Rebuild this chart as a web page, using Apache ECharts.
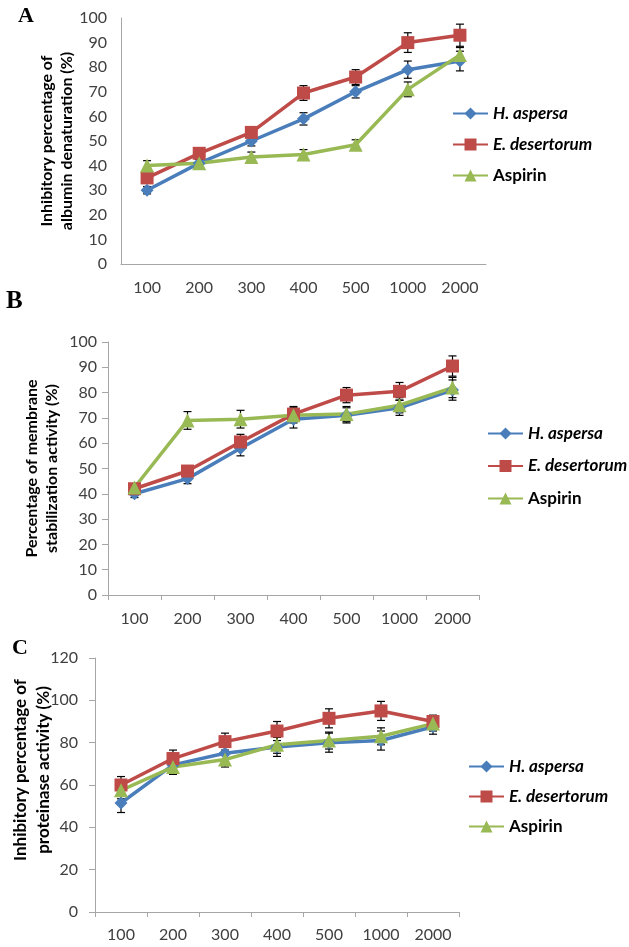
<!DOCTYPE html>
<html>
<head>
<meta charset="utf-8">
<script src="https://cdn.jsdelivr.net/npm/echarts@6/dist/echarts.min.js"></script>
<style>html,body{margin:0;padding:0;background:#fff}#c{width:629px;height:947px}</style>
</head>
<body>
<div id="c"></div>
<script>
const categories = ['100','200','300','400','500','1000','2000'];
const seriesNames = ['H. aspersa','E. desertorum','Aspirin'];

// Panel A: albumin denaturation
const aHasp = [30, 41, 50, 59, 70, 79, 82.5];
const aEdes = [35, 45, 53.5, 69.5, 76, 90, 93];
const aAsp  = [40, 41, 43.5, 44.5, 48.5, 71, 85];
const aHaspErr = [1.5, 1.5, 2, 2.5, 2.5, 3.5, 4];
const aEdesErr = [2, 1.5, 2, 3, 3, 4, 4.5];
const aAspErr  = [2, 1.5, 2, 2, 2, 3, 3];

// Panel B: membrane stabilization
const bHasp = [40, 46, 58, 69.5, 71, 74, 81];
const bEdes = [42, 49, 60.5, 71.5, 79, 80.5, 90.5];
const bAsp  = [42.5, 69, 69.5, 71, 71.5, 75, 82];
const bHaspErr = [1.5, 2, 3, 3.5, 3, 3, 4];
const bEdesErr = [1.5, 2, 3, 3, 3, 3.5, 4];
const bAspErr  = [1.5, 3.5, 3.5, 3, 3, 3, 4];

// Panel C: proteinase activity
const cHasp = [51.5, 69.5, 75, 78, 80, 81, 87.5];
const cEdes = [60, 72.5, 80.5, 85.5, 91.5, 95, 90];
const cAsp  = [57.5, 68.5, 72, 79, 81, 83, 89];
const cHaspErr = [4.5, 3.5, 4, 4.5, 4.5, 4.5, 3.5];
const cEdesErr = [4, 4, 4, 4.5, 4.5, 4.5, 3];
const cAspErr  = [4, 3.5, 3.5, 4, 4, 4, 3.5];

const yMax = [100, 100, 120];
const yInterval = [10, 10, 20];
const yNames = [
  'Inhibitory percentage of\nalbumin denaturation (%)',
  'Percentage of membrane\nstabilization activity (%)',
  'Inhibitory percentage of\nproteinase activity (%)'
];
const panelLetters = ['A','B','C'];

const colors = ['#4A7EBB', '#BE4B48', '#98B954'];
const symbols = ['diamond', 'rect', 'triangle'];
const symbolSizes = [13, 13, 14];

const panels = [
  {vals:[aHasp,aEdes,aAsp], errs:[aHaspErr,aEdesErr,aAspErr]},
  {vals:[bHasp,bEdes,bAsp], errs:[bHaspErr,bEdesErr,bAspErr]},
  {vals:[cHasp,cEdes,cAsp], errs:[cHaspErr,cEdesErr,cAspErr]}
];

const font = 'Lato, "Open Sans", sans-serif';
const grids = [
  {left:121, top:18, width:365, height:246},
  {left:108, top:342, width:371, height:253},
  {left:95, top:658, width:364, height:254}
];
const showTicks = [false, true, true];
const nameGaps = [44, 46, 40];
const nameSizes = [16, 16, 17];
const nameLH = [20, 20, 23];
const namePads = [[0,0,0,0],[0,0,0,0],[0,0,0,30]];
const xLabelMargin = [16, 16, 15];
const yLabelMargin = [14, 11, 17];
const legendPos = [{left:452, top:105, gap:14},{left:487, top:425, gap:15.5},{left:468, top:758, gap:13}];
const letterPos = [{x:18, y:5, s:22},{x:6, y:289, s:25},{x:12, y:637, s:22}];

function renderErr(params, api){
  const x = api.value(0), v = api.value(1), e = api.value(2);
  const hi = api.coord([x, v + e]);
  const lo = api.coord([x, v - e]);
  const w = 4;
  const st = {stroke:'#000', lineWidth:1.2};
  return {type:'group', children:[
    {type:'line', shape:{x1:hi[0], y1:hi[1], x2:lo[0], y2:lo[1]}, style:st},
    {type:'line', shape:{x1:hi[0]-w, y1:hi[1], x2:hi[0]+w, y2:hi[1]}, style:st},
    {type:'line', shape:{x1:lo[0]-w, y1:lo[1], x2:lo[0]+w, y2:lo[1]}, style:st}
  ]};
}

const xAxis = [], yAxis = [], series = [], legend = [], graphic = [];
grids.forEach((g, gi) => {
  xAxis.push({
    type:'category', gridIndex:gi, data:categories, boundaryGap:true,
    axisLine:{lineStyle:{color:'#a6a6a6', width:1}},
    axisTick:{show:showTicks[gi], length:5, lineStyle:{color:'#a6a6a6'}},
    axisLabel:{fontSize:16, color:'#404040', margin:xLabelMargin[gi], fontFamily:font},
    splitLine:{show:false}
  });
  yAxis.push({
    type:'value', gridIndex:gi, min:0, max:yMax[gi], interval:yInterval[gi],
    axisLine:{show:true, lineStyle:{color:'#a6a6a6', width:1}},
    axisTick:{show:showTicks[gi], length:6, lineStyle:{color:'#a6a6a6'}},
    axisLabel:{fontSize:16, color:'#404040', margin:yLabelMargin[gi], fontFamily:font},
    splitLine:{show:false},
    name:yNames[gi], nameLocation:'middle', nameGap:nameGaps[gi], nameRotate:90,
    nameMoveOverlap:false,
    nameTextStyle:{fontSize:nameSizes[gi], fontWeight:'bold', color:'#000', lineHeight:nameLH[gi], fontFamily:font, padding:namePads[gi]}
  });
  const p = panels[gi];
  seriesNames.forEach((nm, si) => {
    series.push({
      type:'custom', name:nm + ' err', xAxisIndex:gi, yAxisIndex:gi, z:1, silent:true,
      renderItem:renderErr, encode:{x:0, y:1},
      data:p.vals[si].map((v, i) => [i, v, p.errs[si][i]])
    });
  });
  seriesNames.forEach((nm, si) => {
    series.push({
      type:'line', name:nm, xAxisIndex:gi, yAxisIndex:gi, z:3,
      data:p.vals[si], symbol:symbols[si], symbolSize:symbolSizes[si],
      color:colors[si], lineStyle:{width:3.5, color:colors[si]},
      itemStyle:{color:colors[si]}, animation:false
    });
  });
  legend.push({
    orient:'vertical', left:legendPos[gi].left, top:legendPos[gi].top, padding:0,
    data:seriesNames, itemWidth:35, itemHeight:15, itemGap:legendPos[gi].gap,
    formatter: n => n === 'Aspirin' ? '{b|' + n + '}' : '{i|' + n + '}',
    textStyle:{rich:{
      i:{fontSize:17, lineHeight:18, fontWeight:'bold', fontStyle:'italic', color:'#000', fontFamily:font},
      b:{fontSize:17, lineHeight:18, fontWeight:'bold', color:'#000', fontFamily:font}
    }},
    selectedMode:false
  });
  graphic.push({
    type:'text', left:letterPos[gi].x, top:letterPos[gi].y,
    style:{text:panelLetters[gi], font:'bold ' + letterPos[gi].s + 'px "Liberation Serif", "DejaVu Serif", serif', fill:'#000'}
  });
});

const chart = echarts.init(document.getElementById('c'), null, {renderer:'canvas'});
chart.setOption({
  backgroundColor:'#fff',
  animation:false,
  grid:grids,
  xAxis:xAxis,
  yAxis:yAxis,
  legend:legend,
  graphic:graphic,
  series:series
});
</script>
</body>
</html>
